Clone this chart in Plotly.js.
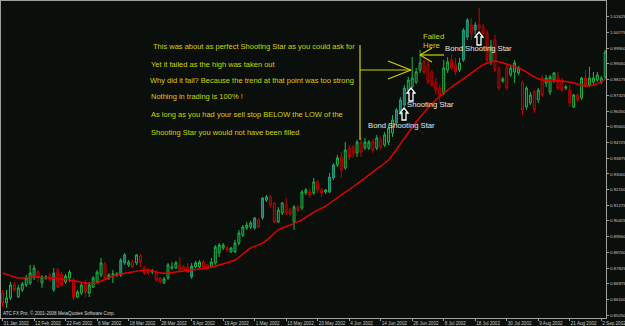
<!DOCTYPE html>
<html><head><meta charset="utf-8">
<script src="https://cdn.plot.ly/plotly-3.0.1.min.js"></script>
<style>html,body{margin:0;padding:0;background:#0b0f0b;}#chart{width:625px;height:326px;}</style>
</head><body><div id="chart"></div>
<script>
const opens = [
0.8647,0.8593,0.8620,0.8691,0.8625,0.8664,0.8691,0.8702,0.8730,0.8762,
0.8702,0.8730,0.8746,0.8664,0.8773,0.8751,0.8708,0.8730,0.8719,0.8625,
0.8647,0.8702,0.8647,0.8680,0.8708,0.8746,0.8806,0.8730,0.8746,0.8746,
0.8746,0.8812,0.8801,0.8817,0.8812,0.8850,0.8784,0.8773,0.8762,0.8762,
0.8730,0.8702,0.8730,0.8784,0.8784,0.8801,0.8790,0.8790,0.8735,0.8790,
0.8790,0.8817,0.8801,0.8790,0.8812,0.8867,0.8894,0.8894,0.8872,0.8872,
0.8921,0.8965,0.9004,0.9009,0.9004,0.9048,0.9059,0.9157,0.9174,0.9141,
0.9037,0.9086,0.9130,0.9102,0.9037,0.9119,0.9113,0.9196,0.9201,0.9196,
0.9256,0.9212,0.9201,0.9201,0.9278,0.9349,0.9393,0.9333,0.9442,0.9448,
0.9415,0.9470,0.9442,0.9442,0.9475,0.9442,0.9486,0.9459,0.9475,0.9525,
0.9579,0.9640,0.9678,0.9760,0.9777,0.9804,0.9870,0.9914,0.9898,0.9859,
0.9804,0.9771,0.9744,0.9870,0.9925,0.9898,0.9870,0.9925,1.0051,1.0117,
1.0089,1.0117,1.0106,1.0073,0.9914,1.0035,0.9870,0.9810,0.9881,0.9843,
0.9859,0.9854,0.9799,0.9667,0.9689,0.9749,0.9706,0.9826,0.9799,0.9749,
0.9815,0.9832,0.9815,0.9771,0.9760,0.9667,0.9733,0.9717,0.9826,0.9788,
0.9804,0.9815,0.9804,0.9832];
const highs = [
0.8664,0.8664,0.8708,0.8708,0.8691,0.8708,0.8746,0.8801,0.8801,0.8773,
0.8746,0.8746,0.8757,0.8784,0.8784,0.8762,0.8751,0.8773,0.8730,0.8664,
0.8702,0.8719,0.8708,0.8740,0.8773,0.8839,0.8817,0.8757,0.8773,0.8762,
0.8839,0.8867,0.8828,0.8828,0.8861,0.8861,0.8795,0.8784,0.8779,0.8773,
0.8735,0.8735,0.8812,0.8817,0.8823,0.8845,0.8801,0.8812,0.8812,0.8823,
0.8828,0.8828,0.8806,0.8839,0.8910,0.8921,0.8921,0.8905,0.8899,0.8938,
0.8993,0.9020,0.9037,0.9042,0.9064,0.9059,0.9174,0.9185,0.9185,0.9146,
0.9119,0.9146,0.9168,0.9113,0.9130,0.9130,0.9212,0.9223,0.9223,0.9278,
0.9267,0.9223,0.9218,0.9305,0.9360,0.9404,0.9420,0.9475,0.9459,0.9459,
0.9486,0.9503,0.9497,0.9486,0.9492,0.9514,0.9503,0.9530,0.9569,0.9623,
0.9662,0.9722,0.9788,0.9832,0.9941,0.9881,0.9980,0.9925,0.9925,0.9870,
0.9826,0.9788,0.9925,0.9941,0.9952,0.9936,0.9936,1.0100,1.0155,1.0155,
1.0133,1.0210,1.0122,1.0089,1.0035,1.0062,0.9892,0.9832,0.9898,0.9898,
0.9925,0.9892,0.9810,0.9782,0.9749,0.9760,0.9771,0.9843,0.9843,0.9843,
0.9859,0.9859,0.9826,0.9788,0.9788,0.9738,0.9744,0.9832,0.9870,0.9887,
0.9859,0.9859,0.9837,0.9980];
const lows = [
0.8570,0.8565,0.8609,0.8653,0.8620,0.8653,0.8680,0.8691,0.8719,0.8708,
0.8675,0.8719,0.8708,0.8653,0.8675,0.8680,0.8697,0.8708,0.8609,0.8620,
0.8636,0.8625,0.8625,0.8675,0.8702,0.8735,0.8719,0.8719,0.8702,0.8735,
0.8735,0.8801,0.8790,0.8784,0.8801,0.8790,0.8746,0.8746,0.8751,0.8708,
0.8702,0.8697,0.8719,0.8773,0.8779,0.8762,0.8768,0.8757,0.8724,0.8784,
0.8784,0.8784,0.8779,0.8784,0.8801,0.8845,0.8883,0.8872,0.8867,0.8867,
0.8910,0.8954,0.8993,0.8998,0.8993,0.9004,0.9048,0.9146,0.9119,0.9031,
0.9031,0.9075,0.9075,0.9070,0.8993,0.9091,0.9102,0.9185,0.9168,0.9185,
0.9196,0.9174,0.9190,0.9196,0.9267,0.9338,0.9278,0.9322,0.9377,0.9388,
0.9393,0.9393,0.9431,0.9431,0.9415,0.9431,0.9431,0.9448,0.9459,0.9503,
0.9569,0.9623,0.9667,0.9749,0.9771,0.9793,0.9854,0.9848,0.9793,0.9777,
0.9733,0.9689,0.9733,0.9854,0.9870,0.9843,0.9859,0.9914,1.0035,1.0035,
1.0062,1.0089,1.0057,0.9903,0.9898,0.9859,0.9760,0.9799,0.9760,0.9832,
0.9799,0.9843,0.9623,0.9651,0.9678,0.9634,0.9689,0.9722,0.9777,0.9733,
0.9799,0.9760,0.9749,0.9760,0.9667,0.9662,0.9695,0.9706,0.9777,0.9777,
0.9793,0.9804,0.9793,0.9821];
const closes = [
0.8593,0.8620,0.8691,0.8664,0.8675,0.8697,0.8730,0.8757,0.8784,0.8730,
0.8735,0.8735,0.8719,0.8757,0.8680,0.8691,0.8740,0.8762,0.8625,0.8653,
0.8691,0.8653,0.8691,0.8730,0.8762,0.8812,0.8730,0.8746,0.8751,0.8751,
0.8828,0.8856,0.8817,0.8790,0.8856,0.8817,0.8757,0.8757,0.8768,0.8719,
0.8708,0.8724,0.8801,0.8790,0.8812,0.8773,0.8773,0.8762,0.8795,0.8812,
0.8817,0.8790,0.8784,0.8817,0.8899,0.8910,0.8910,0.8883,0.8894,0.8921,
0.8976,0.9009,0.9020,0.9031,0.9059,0.9009,0.9168,0.9174,0.9130,0.9037,
0.9102,0.9141,0.9086,0.9080,0.9119,0.9102,0.9201,0.9212,0.9185,0.9256,
0.9212,0.9196,0.9212,0.9283,0.9349,0.9388,0.9322,0.9431,0.9393,0.9415,
0.9475,0.9420,0.9475,0.9475,0.9431,0.9497,0.9448,0.9514,0.9552,0.9596,
0.9651,0.9706,0.9771,0.9815,0.9826,0.9859,0.9909,0.9859,0.9804,0.9788,
0.9760,0.9733,0.9881,0.9914,0.9881,0.9859,0.9909,1.0089,1.0144,1.0073,
1.0117,1.0100,1.0073,0.9925,1.0002,0.9870,0.9771,0.9821,0.9771,0.9881,
0.9909,0.9881,0.9651,0.9771,0.9733,0.9651,0.9760,0.9733,0.9826,0.9832,
0.9854,0.9771,0.9760,0.9777,0.9689,0.9733,0.9706,0.9826,0.9788,0.9826,
0.9826,0.9843,0.9826,0.9969];
const tealBars = [13,30,31,48,64,66,83,84,100,101,102,117,118,120];
const maIndex = [0,4,8,12,17,21,24,25,29,33,36,38,40,42,46,50,53,55,59,63,66,68,70,73,76,79,82,86,90,95,98,101,105,110,114,118,122,125,127,131,133,135,137,142,145,148,150,152,153];
const maValues = [0.8757,0.8730,0.8735,0.8730,0.8719,0.8702,0.8702,0.8713,0.8746,0.8762,0.8773,0.8768,0.8757,0.8757,0.8768,0.8779,0.8790,0.8801,0.8828,0.8894,0.8921,0.8954,0.8993,0.9020,0.9048,0.9091,0.9124,0.9185,0.9245,0.9327,0.9377,0.9464,0.9585,0.9706,0.9777,0.9837,0.9898,0.9920,0.9909,0.9881,0.9859,0.9832,0.9815,0.9810,0.9799,0.9782,0.9788,0.9804,0.9821];
const xTickIndex = [0,8,16,24,32,40,48,56,64,72,80,88,96,104,112,120,128,136,144,152];
const xTickLabels = ["31 Jan 2002","12 Feb 2002","22 Feb 2002","6 Mar 2002","18 Mar 2002","28 Mar 2002","9 Apr 2002","19 Apr 2002","1 May 2002","13 May 2002","23 May 2002","4 Jun 2002","14 Jun 2002","26 Jun 2002","8 Jul 2002","18 Jul 2002","30 Jul 2002","9 Aug 2002","21 Aug 2002","2 Sep 2002"];
const yTickValues = [0.8525,0.861,0.86975,0.87825,0.887,0.8955,0.90425,0.91275,0.9215,0.93,0.93875,0.94725,0.956,0.9645,0.97325,0.98175,0.9905,0.999,1.00775,1.01625];
const yTickLabels = ["0.85250","0.86100","0.86975","0.87825","0.88700","0.89550","0.90425","0.91275","0.92150","0.93000","0.93875","0.94725","0.95600","0.96450","0.97325","0.98175","0.99050","0.99900","1.00775","1.01625"];

const noteLines = ["This was about as perfect Shooting Star as you could ask for","Yet it failed as the high was taken out","Why did it fail? Because the trend at that point was too strong","Nothing in trading is 100% !","As long as you had your sell stop BELOW the LOW of the","Shooting Star you would not have been filled"];
const labelTexts = ["Bond Shooting Star","Shooting Star","Bond Shooting Star"];

const idx = opens.map((_, i) => i);
const normal = idx.filter(i => tealBars.indexOf(i) < 0);
function pick(arr, ids){ return ids.map(i => arr[i]); }

const traces = [
 {type:'candlestick', x:normal, open:pick(opens,normal), high:pick(highs,normal), low:pick(lows,normal), close:pick(closes,normal),
  increasing:{line:{color:'#1fb54a',width:1}, fillcolor:'#0b2a14'},
  decreasing:{line:{color:'#c80000',width:1}, fillcolor:'#2a0606'},
  whiskerwidth:0, hoverinfo:'skip', showlegend:false},
 {type:'candlestick', x:tealBars, open:pick(opens,tealBars), high:pick(highs,tealBars), low:pick(lows,tealBars), close:pick(closes,tealBars),
  increasing:{line:{color:'#1f9f7a',width:1}, fillcolor:'#1e6e62'},
  decreasing:{line:{color:'#1f9f7a',width:1}, fillcolor:'#1e6e62'},
  whiskerwidth:0, hoverinfo:'skip', showlegend:false},
 {type:'scatter', mode:'lines', x:maIndex, y:maValues, line:{color:'#e00000', width:1.5, shape:'spline', smoothing:0.6}, hoverinfo:'skip', showlegend:false}
];

const PX = p => (p - 1) / 605;
const PY = p => (318 - p) / 317;
const yellow = '#d2d200';
function seg(x0,y0,x1,y1,c,w){ return {type:'line', xref:'paper', yref:'paper', x0:PX(x0), y0:PY(y0), x1:PX(x1), y1:PY(y1), line:{color:c, width:w||1.2}}; }
function upArrow(cx, top, bottom){
  const pts = [[cx,top],[cx+4,top+5],[cx+2,top+5],[cx+2,bottom],[cx-2,bottom],[cx-2,top+5],[cx-4,top+5]];
  const d = 'M' + pts.map(p => PX(p[0]).toFixed(5)+','+PY(p[1]).toFixed(5)).join(' L') + ' Z';
  return {type:'path', xref:'paper', yref:'paper', path:d, line:{color:'#ffffff', width:1.3}, fillcolor:'#0b0f0b'};
}
const shapes = [
  seg(360,45,360,140,yellow),
  seg(360,70,411,70,yellow),
  seg(388,61,411,70,yellow),
  seg(388,79,411,70,yellow),
  seg(420,55,444,55,yellow),
  seg(420,55,432,48,yellow),
  seg(420,55,432,62,yellow),
  upArrow(404,108,120),
  upArrow(411,88,101),
  upArrow(479,32,45)
];

function txt(text, x, y, color, size){
  return {text:text, xref:'paper', yref:'paper', x:PX(x), y:PY(y), xanchor:'left', yanchor:'middle', showarrow:false, borderpad:0,
          font:{family:'Liberation Sans, Arial, sans-serif', size:size, color:color}};
}
const noteX = [152,150,149,150,150,150];
const noteY = [47,64.5,80,96,114,132];
const annotations = noteLines.map((t,k) => txt(t, noteX[k], noteY[k], yellow, 7.5));
annotations.push(txt('Failed', 422, 37, yellow, 7.8));
annotations.push(txt('Here', 422, 45, yellow, 7.8));
annotations.push(txt(labelTexts[0], 444, 48.5, '#e8e8e8', 7.7));
annotations.push(txt(labelTexts[1], 406, 104, '#e8e8e8', 7.7));
annotations.push(txt(labelTexts[2], 367, 125, '#e8e8e8', 7.7));
annotations.push(txt('ATC FX Pro, \u00a9 2001-2008 MetaQuotes Software Corp.', 2, 313, '#d8d8d8', 4.6));

const axisFont = {family:'Liberation Sans, Arial, sans-serif', size:4.6, color:'#c8c8c8'};
const layout = {
  width:625, height:326,
  margin:{l:1, r:19, t:1, b:8, pad:0},
  paper_bgcolor:'#0b0f0b', plot_bgcolor:'#0b0f0b',
  showlegend:false,
  xaxis:{range:[-0.4,153.2], showgrid:false, zeroline:false, tickmode:'array', tickvals:xTickIndex, ticktext:xTickLabels,
         tickangle:0, automargin:false, ticklabeloverflow:'allow',
         ticks:'outside', ticklen:2, tickcolor:'#a0a0a0', showline:true, linecolor:'#a0a0a0', linewidth:1, mirror:true,
         tickfont:axisFont, ticklabelposition:'outside right', rangeslider:{visible:false}, fixedrange:true},
  yaxis:{side:'right', range:[0.85101,1.02485], showgrid:false, zeroline:false, tickmode:'array', tickvals:yTickValues, ticktext:yTickLabels,
         automargin:false,
         ticks:'outside', ticklen:2, tickcolor:'#a0a0a0', showline:true, linecolor:'#a0a0a0', linewidth:1, mirror:true,
         tickfont:{family:'Liberation Sans, Arial, sans-serif', size:4.4, color:'#c8c8c8'}, fixedrange:true},
  shapes:shapes,
  annotations:annotations
};
Plotly.newPlot('chart', traces, layout, {displayModeBar:false, staticPlot:true});
</script>
</body></html>
